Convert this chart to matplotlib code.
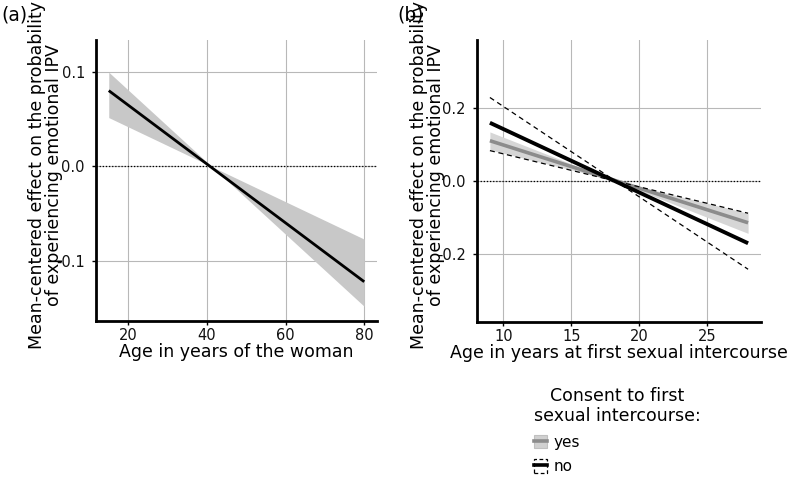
import matplotlib
matplotlib.use("Agg")
import matplotlib.pyplot as plt
from matplotlib.patches import Patch
from matplotlib.lines import Line2D
import numpy as np

# ---- data ----
# Panel (a): age of the woman
age_a = [15, 80]
fit_a = [0.080, -0.122]
lo_a = [0.0515, -0.077]
hi_a = [0.0995, -0.148]

# Panel (b): age at first sexual intercourse
age_b = [9, 28]
fit_yes = [0.110, -0.114]
band_yes_1 = [0.134, -0.143]
band_yes_2 = [0.085, -0.088]
fit_no = [0.159, -0.170]
band_no_1 = [0.228, -0.241]
band_no_2 = [0.083, -0.088]

xticks_a = [20, 40, 60, 80]
yticks_a = [-0.1, 0.0, 0.1]
xticks_b = [10, 15, 20, 25]
yticks_b = [-0.2, 0.0, 0.2]

ylabel = "Mean-centered effect on the probability\nof experiencing emotional IPV"

plt.rcParams['font.family'] = ['DejaVu Sans']

fig = plt.figure(figsize=(7.94, 4.78), dpi=100)
W, H = 794, 478

def add_ax(x0, y0, x1, y1):
    return fig.add_axes([x0 / W, 1 - y1 / H, (x1 - x0) / W, (y1 - y0) / H])

axa = add_ax(96, 40, 377, 321)
axb = add_ax(477, 40, 761, 322)

def style(ax):
    for s in ['top', 'right']:
        ax.spines[s].set_visible(False)
    for s in ['left', 'bottom']:
        ax.spines[s].set_linewidth(2.0)
        ax.spines[s].set_color('black')
    ax.grid(True, color='#b8b8b8', linewidth=0.8)
    ax.set_axisbelow(True)
    ax.tick_params(axis='both', length=3, width=1, color='black',
                   labelsize=10.5, labelcolor='#111111')
    ax.tick_params(axis='y', pad=5)
    ax.tick_params(axis='x', pad=2)

def interp_line(xs, ys, n=100):
    xx = np.linspace(xs[0], xs[-1], n)
    return xx, np.interp(xx, xs, ys)

# Panel (a)
style(axa)
xx, l = interp_line(age_a, lo_a)
_, h = interp_line(age_a, hi_a)
axa.fill_between(xx, l, h, color='#c8c8c8', linewidth=0, interpolate=True)
axa.axhline(0, color='black', linestyle=(0, (1, 1.5)), linewidth=0.9)
axa.plot(age_a, fit_a, color='black', linewidth=2.0, solid_capstyle='butt')
axa.set_xlim(11.75, 83.25)
axa.set_ylim(-0.1635, 0.1335)
axa.set_xticks(xticks_a)
axa.set_yticks(yticks_a)
axa.set_yticklabels(['-0.1', '0.0', '0.1'])
axa.set_xlabel("Age in years of the woman", fontsize=12.5, labelpad=0)
axa.set_ylabel(ylabel, fontsize=12.5, linespacing=0.95)
axa.yaxis.set_label_coords((63 - 96) / 281, 0.52)

# Panel (b)
style(axb)
xx, a1 = interp_line(age_b, band_yes_1)
_, a2 = interp_line(age_b, band_yes_2)
axb.fill_between(xx, a1, a2, color='#d6d6d6', linewidth=0, interpolate=True)
axb.axhline(0, color='black', linestyle=(0, (1, 1.5)), linewidth=0.9)
axb.plot(age_b, fit_yes, color='#8c8c8c', linewidth=2.6, solid_capstyle='butt')
axb.plot(age_b, band_no_1, color='black', linewidth=0.9, linestyle=(0, (4, 3)))
axb.plot(age_b, band_no_2, color='black', linewidth=0.9, linestyle=(0, (4, 3)))
axb.plot(age_b, fit_no, color='black', linewidth=2.8, solid_capstyle='butt')
axb.set_xlim(8.05, 28.95)
axb.set_ylim(-0.385, 0.385)
axb.set_xticks(xticks_b)
axb.set_yticks(yticks_b)
axb.set_yticklabels(['-0.2', '0.0', '0.2'])
axb.set_xlabel("Age in years at first sexual intercourse", fontsize=12.5, labelpad=0)
axb.set_ylabel(ylabel, fontsize=12.5, linespacing=0.95)
axb.yaxis.set_label_coords((445 - 477) / 284, 0.52)

fig.text(1 / W, 1 - 15 / H, "(a)", fontsize=13.5, va='center', ha='left')
fig.text(397 / W, 1 - 15 / H, "(b)", fontsize=13.5, va='center', ha='left')

h_yes = (Patch(facecolor='#d0d0d0', edgecolor='#c0c0c0', linewidth=0.8),
         Line2D([0], [0], color='#8c8c8c', linewidth=2.6))
h_no = (Patch(facecolor='none', edgecolor='black', linestyle=(0, (3, 2)), linewidth=0.9),
        Line2D([0], [0], color='black', linewidth=2.6))
leg = fig.legend([h_yes, h_no], ['yes', 'no'],
                 title="Consent to first\nsexual intercourse:",
                 loc='upper left', bbox_to_anchor=(523 / W, 1 - 376 / H),
                 frameon=False, fontsize=11, title_fontsize=12.5,
                 handlelength=0.85, handleheight=1.0, handletextpad=0.45,
                 labelspacing=0.6, borderpad=0.2)
leg._legend_box.align = 'left'
leg.get_title().set_ha('center')
leg.get_title().set_multialignment('center')

fig.savefig("out.png", dpi=100)
